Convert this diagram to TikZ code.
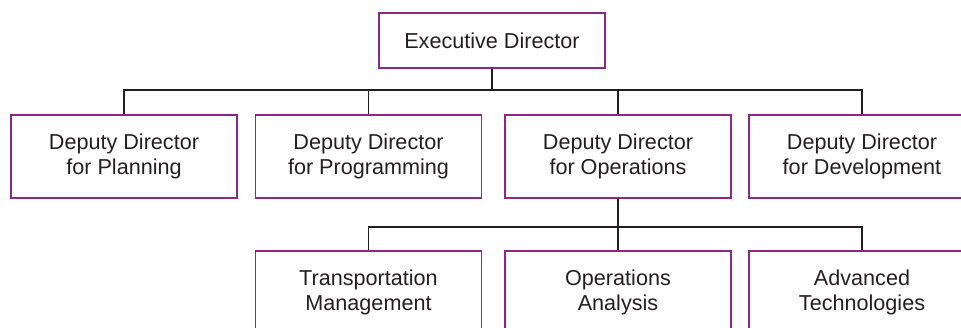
\documentclass[tikz,border=0pt]{standalone}
\usepackage{fontspec}
\setmainfont{Liberation Sans}
\definecolor{boxpurple}{RGB}{139,38,139}
\definecolor{inkgray}{RGB}{35,31,32}
\begin{document}
\begin{tikzpicture}[x = 0.02cm,y = -0.02cm,line width = 1.1pt,
	every node/.style={draw=boxpurple,text=inkgray,align=center,inner sep=0pt,font=\fontsize{12.3}{14.6}\selectfont},
	unit/.style={minimum width=4.52cm,minimum height=1.66cm},
	link/.style={draw=inkgray,line width=1pt}]
	\clip (0,0) rectangle (961,328);
	\node[minimum width=4.52cm,minimum height=1.1cm] (exec) at (492,40.5)	{Executive Director};
	\node[unit] (plan) at (124,156.5)	{Deputy Director\\for Planning};
	\node[unit] (prog) at (368.5,156.5)	{Deputy Director\\for Programming};
	\node[unit] (oper) at (618,156.5)	{Deputy Director\\for Operations};
	\node[unit] (devel) at (862,156.5)	{Deputy Director\\for Development};
	\node[unit] (trans) at (368.5,292.5)	{Transportation\\Management};
	\node[unit] (anal) at (618,292.5)	{Operations\\Analysis};
	\node[unit] (tech) at (862,292.5)	{Advanced\\Technologies};
	\coordinate (bus1) at (492,90);
	\coordinate (bus2) at (618,227);
	\draw[link] (exec.south) -- (bus1);
	\draw[link] (bus1) -| (plan.north);
	\draw[link] (bus1) -| (prog.north);
	\draw[link] (bus1) -| (oper.north);
	\draw[link] (bus1) -| (devel.north);
	\draw[link] (oper.south) -- (bus2);
	\draw[link] (bus2) -| (trans.north);
	\draw[link] (bus2) -- (anal.north);
	\draw[link] (bus2) -| (tech.north);
\end{tikzpicture}
\end{document}
